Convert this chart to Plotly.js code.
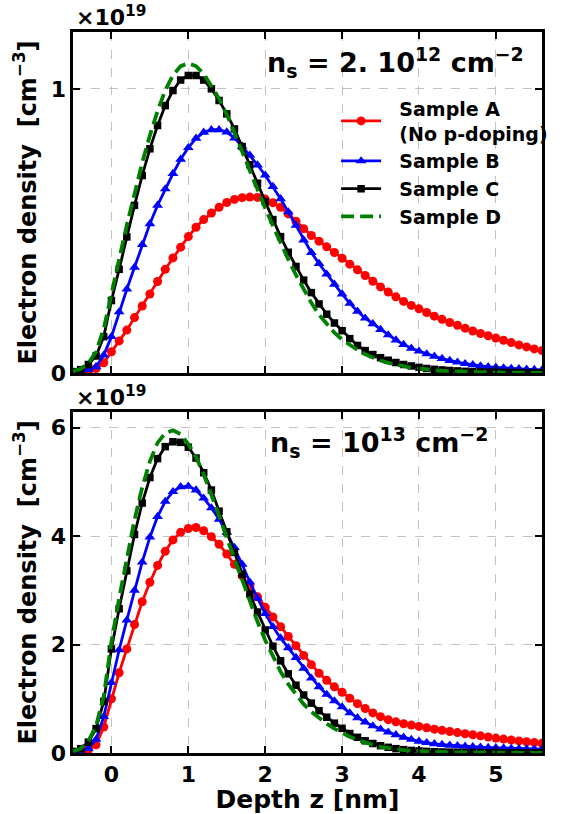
<!DOCTYPE html>
<html>
<head>
<meta charset="utf-8">
<script src="https://cdn.plot.ly/plotly-3.0.1.min.js"></script>
<style>
  html, body { margin: 0; padding: 0; background: #fff; }
  #chart { width: 565px; height: 814px; }
</style>
</head>
<body>
<div id="chart"></div>
<script>
// Depth grid, nm
const depth = [-0.5, -0.4, -0.3, -0.2, -0.1, 0.0, 0.1, 0.2, 0.3, 0.4, 0.5, 0.6, 0.7, 0.8, 0.9,
  1.0, 1.1, 1.2, 1.3, 1.4, 1.5, 1.6, 1.7, 1.8, 1.9, 2.0, 2.1, 2.2, 2.3, 2.4, 2.5, 2.6, 2.7, 2.8, 2.9,
  3.0, 3.1, 3.2, 3.3, 3.4, 3.5, 3.6, 3.7, 3.8, 3.9, 4.0, 4.1, 4.2, 4.3, 4.4, 4.5, 4.6, 4.7, 4.8, 4.9,
  5.0, 5.1, 5.2, 5.3, 5.4, 5.5, 5.6];

// Legend labels (leading no-break spaces keep the text clear of the symbol)
const sampleNames = ['\u00a0\u00a0Sample A<br>\u00a0\u00a0(No p-doping)', '\u00a0\u00a0Sample B', '\u00a0\u00a0Sample C', '\u00a0\u00a0Sample D'];

// Electron density (units of 1e19 cm^-3), sheet density n_s = 2e12 cm^-2
const lowA = [0.001, 0.002, 0.006, 0.016, 0.036, 0.075, 0.113, 0.151, 0.195, 0.236, 0.278, 0.322, 0.365, 0.405, 0.443,
  0.48, 0.513, 0.54, 0.563, 0.583, 0.6, 0.611, 0.617, 0.619, 0.618, 0.612, 0.599, 0.583, 0.56, 0.534, 0.508, 0.484, 0.464, 0.444, 0.424,
  0.404, 0.383, 0.363, 0.343, 0.323, 0.303, 0.285, 0.268, 0.252, 0.238, 0.226, 0.213, 0.2, 0.189, 0.178, 0.168, 0.158, 0.148, 0.139, 0.131,
  0.123, 0.115, 0.107, 0.099, 0.092, 0.085, 0.079];
const lowB = [0.003, 0.008, 0.012, 0.022, 0.063, 0.128, 0.215, 0.295, 0.372, 0.452, 0.525, 0.59, 0.648, 0.702, 0.752,
  0.793, 0.826, 0.847, 0.856, 0.856, 0.848, 0.827, 0.798, 0.766, 0.732, 0.696, 0.656, 0.613, 0.567, 0.52, 0.468, 0.424, 0.385, 0.348, 0.312,
  0.278, 0.245, 0.217, 0.193, 0.173, 0.153, 0.134, 0.116, 0.1, 0.087, 0.077, 0.067, 0.059, 0.051, 0.044, 0.038, 0.033, 0.029, 0.025, 0.022,
  0.02, 0.018, 0.016, 0.015, 0.013, 0.012, 0.011];
const lowC = [0.005, 0.012, 0.03, 0.06, 0.128, 0.255, 0.365, 0.479, 0.59, 0.695, 0.789, 0.871, 0.941, 0.994, 1.031,
  1.047, 1.047, 1.031, 1.0, 0.959, 0.912, 0.859, 0.797, 0.733, 0.668, 0.603, 0.54, 0.48, 0.425, 0.375, 0.327, 0.283, 0.243, 0.207, 0.176,
  0.149, 0.121, 0.097, 0.079, 0.065, 0.054, 0.045, 0.037, 0.03, 0.025, 0.02, 0.016, 0.013, 0.011, 0.009, 0.0075, 0.006, 0.005, 0.0042, 0.0035,
  0.003, 0.0025, 0.002, 0.0017, 0.0014, 0.0012, 0.001];
const lowD = [0.006, 0.015, 0.035, 0.075, 0.155, 0.285, 0.4, 0.52, 0.633, 0.74, 0.836, 0.922, 0.995, 1.048, 1.08,
  1.09, 1.08, 1.053, 1.01, 0.965, 0.91, 0.848, 0.78, 0.712, 0.643, 0.58, 0.518, 0.457, 0.4, 0.345, 0.293, 0.247, 0.205, 0.171, 0.142,
  0.118, 0.098, 0.081, 0.066, 0.054, 0.044, 0.036, 0.029, 0.024, 0.019, 0.015, 0.012, 0.01, 0.008, 0.0065, 0.005, 0.004, 0.0033, 0.0027, 0.0022,
  0.0018, 0.0015, 0.0012, 0.001, 0.0008, 0.0007, 0.0006];

// Electron density (units of 1e19 cm^-3), sheet density n_s = 1e13 cm^-2
const highA = [0.005, 0.015, 0.06, 0.15, 0.48, 1.0, 1.48, 1.92, 2.37, 2.79, 3.15, 3.46, 3.72, 3.93, 4.07,
  4.14, 4.16, 4.1, 3.99, 3.85, 3.67, 3.48, 3.27, 3.07, 2.88, 2.69, 2.51, 2.33, 2.15, 1.98, 1.8, 1.63, 1.47, 1.34, 1.22,
  1.12, 1.01, 0.91, 0.82, 0.74, 0.67, 0.615, 0.575, 0.54, 0.515, 0.49, 0.465, 0.44, 0.418, 0.397, 0.377, 0.356, 0.336, 0.316, 0.295,
  0.275, 0.257, 0.24, 0.223, 0.207, 0.192, 0.178];
const highB = [0.01, 0.03, 0.08, 0.25, 0.67, 1.3, 1.9, 2.45, 3.0, 3.52, 3.98, 4.36, 4.64, 4.82, 4.91,
  4.92, 4.85, 4.7, 4.52, 4.31, 4.07, 3.79, 3.48, 3.15, 2.85, 2.57, 2.33, 2.12, 1.94, 1.76, 1.56, 1.38, 1.22, 1.08, 0.96,
  0.85, 0.74, 0.65, 0.57, 0.5, 0.44, 0.385, 0.335, 0.29, 0.25, 0.215, 0.19, 0.17, 0.155, 0.143, 0.133, 0.124, 0.116, 0.108, 0.101,
  0.095, 0.09, 0.085, 0.08, 0.076, 0.073, 0.07];
const highC = [0.03, 0.08, 0.2, 0.45, 0.95, 1.92, 2.66, 3.36, 4.03, 4.61, 5.08, 5.43, 5.65, 5.74, 5.73,
  5.64, 5.44, 5.17, 4.85, 4.46, 4.08, 3.7, 3.3, 2.93, 2.6, 2.27, 1.97, 1.7, 1.46, 1.25, 1.07, 0.92, 0.78, 0.66, 0.55,
  0.455, 0.36, 0.29, 0.225, 0.175, 0.135, 0.105, 0.08, 0.062, 0.048, 0.038, 0.03, 0.024, 0.019, 0.016, 0.013, 0.011, 0.009, 0.008, 0.007,
  0.006, 0.005, 0.0045, 0.004, 0.0035, 0.003, 0.003];
const highD = [0.03, 0.08, 0.22, 0.5, 1.05, 2.05, 2.85, 3.6, 4.3, 4.9, 5.38, 5.72, 5.9, 5.95, 5.88,
  5.7, 5.46, 5.14, 4.78, 4.38, 3.97, 3.57, 3.17, 2.78, 2.42, 2.08, 1.77, 1.5, 1.27, 1.07, 0.9, 0.76, 0.64, 0.54, 0.45,
  0.37, 0.3, 0.24, 0.19, 0.15, 0.115, 0.09, 0.07, 0.054, 0.042, 0.033, 0.026, 0.02, 0.016, 0.013, 0.01, 0.008, 0.007, 0.006, 0.005,
  0.004, 0.0035, 0.003, 0.0025, 0.002, 0.002, 0.0015];

const xTicks = [0, 1, 2, 3, 4, 5];
const lowYTicks = [0, 1];
const highYTicks = [0, 2, 4, 6];

// Per-sample drawing style
const styles = [
  { line: { color: '#ff0000', width: 2.8 }, marker: { symbol: 'circle', size: 9, color: '#ff0000' }, mode: 'lines+markers' },
  { line: { color: '#0000ff', width: 2.8 }, marker: { symbol: 'triangle-up', size: 9.5, color: '#0000ff' }, mode: 'lines+markers' },
  { line: { color: '#000000', width: 2.8 }, marker: { symbol: 'square', size: 7.5, color: '#000000' }, mode: 'lines+markers' },
  { line: { color: '#008000', width: 3.8, dash: '13px,6px' }, mode: 'lines' }
];

const lowSeries = [lowA, lowB, lowC, lowD];
const highSeries = [highA, highB, highC, highD];

const traces = [];
lowSeries.forEach((ys, i) => {
  traces.push(Object.assign({
    type: 'scatter', x: depth, y: ys, xaxis: 'x2', yaxis: 'y2',
    name: sampleNames[i], showlegend: true, legendgroup: 'g' + i
  }, styles[i]));
});
highSeries.forEach((ys, i) => {
  traces.push(Object.assign({
    type: 'scatter', x: depth, y: ys, xaxis: 'x', yaxis: 'y',
    name: sampleNames[i], showlegend: false, legendgroup: 'g' + i
  }, styles[i]));
});

const FONT = 'DejaVu Sans, Verdana, sans-serif';
const axisCommon = {
  showline: true, linecolor: '#000', linewidth: 2.6, mirror: 'ticks',
  ticks: 'inside', ticklen: 7, tickwidth: 2, tickcolor: '#000',
  showgrid: true, gridcolor: '#b3b3b3', gridwidth: 0.8, griddash: 'dash',
  zeroline: false,
  tickfont: { family: FONT, size: 22, color: '#000', weight: 'bold' }
};

const yTitle = {
  text: 'Electron density\u00a0 [cm<sup>\u22123</sup>]',
  font: { family: FONT, size: 24, color: '#000', weight: 'bold' },
  standoff: 8
};

const layout = {
  width: 565, height: 814, autosize: false,
  margin: { l: 73, r: 15, t: 32, b: 61 },
  paper_bgcolor: '#fff', plot_bgcolor: '#fff',
  font: { family: FONT, color: '#000' },
  showlegend: true,
  legend: {
    x: 0.561, y: 0.92, xanchor: 'left', yanchor: 'top',
    bgcolor: 'rgba(0,0,0,0)', borderwidth: 0,
    font: { family: FONT, size: 19, color: '#000', weight: 'bold' },
    itemwidth: 40, tracegroupgap: 0, valign: 'middle'
  },
  xaxis: Object.assign({}, axisCommon, {
    anchor: 'y', domain: [0, 1], range: [-0.5, 5.6],
    tickmode: 'array', tickvals: xTicks,
    title: { text: 'Depth z [nm]', font: { family: FONT, size: 25, color: '#000', weight: 'bold' }, standoff: 4 }
  }),
  yaxis: Object.assign({}, axisCommon, {
    anchor: 'x', domain: [0, 0.473], range: [0, 6.29],
    tickmode: 'array', tickvals: highYTicks,
    title: yTitle
  }),
  xaxis2: Object.assign({}, axisCommon, {
    anchor: 'y2', domain: [0, 1], range: [-0.5, 5.6], matches: 'x',
    tickmode: 'array', tickvals: xTicks, showticklabels: false
  }),
  yaxis2: Object.assign({}, axisCommon, {
    anchor: 'x2', domain: [0.527, 1], range: [0, 1.2],
    tickmode: 'array', tickvals: lowYTicks,
    title: yTitle
  }),
  annotations: [
    {
      xref: 'paper', yref: 'paper', x: 0.41, y: 0.958, xanchor: 'left', yanchor: 'middle',
      text: 'n<sub>s</sub> = 2. 10<sup>12</sup> cm<sup>\u22122</sup>', showarrow: false,
      font: { family: FONT, size: 27, color: '#000', weight: 'bold' }
    },
    {
      xref: 'paper', yref: 'paper', x: 0.415, y: 0.43, xanchor: 'left', yanchor: 'middle',
      text: 'n<sub>s</sub> = 10<sup>13</sup> cm<sup>\u22122</sup>', showarrow: false,
      font: { family: FONT, size: 27, color: '#000', weight: 'bold' }
    },
    {
      xref: 'paper', yref: 'paper', x: 0.003, y: 1.022, xanchor: 'left', yanchor: 'middle',
      text: '\u00d710<sup>19</sup>', showarrow: false,
      font: { family: FONT, size: 22, color: '#000', weight: 'bold' }
    },
    {
      xref: 'paper', yref: 'paper', x: 0.003, y: 0.495, xanchor: 'left', yanchor: 'middle',
      text: '\u00d710<sup>19</sup>', showarrow: false,
      font: { family: FONT, size: 22, color: '#000', weight: 'bold' }
    }
  ]
};

Plotly.newPlot('chart', traces, layout, { displayModeBar: false, staticPlot: true });
</script>
</body>
</html>
